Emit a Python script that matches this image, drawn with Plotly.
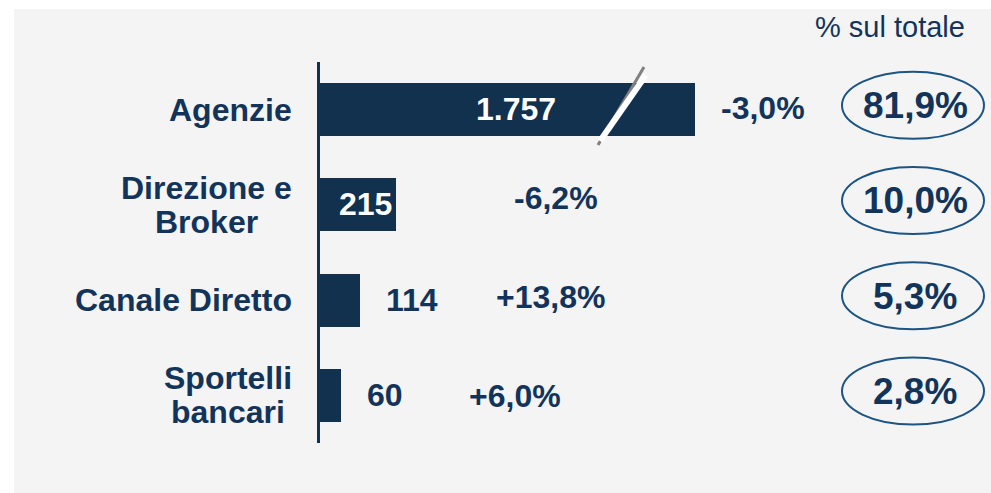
import plotly.graph_objects as go

# ---- data ----
categories = ["Agenzie", "Direzione e<br>Broker", "Canale Diretto", "Sportelli<br>bancari"]
values = [1757, 215, 114, 60]
value_labels = ["1.757", "215", "114", "60"]
growth_labels = ["-3,0%", "-6,2%", "+13,8%", "+6,0%"]
share_labels = ["81,9%", "10,0%", "5,3%", "2,8%"]
share_header = "% sul totale"

# ---- style / layout ----
W, H = 991, 493
NAVY = "#12314F"
TEXT = "#13345A"
ELL = "#1C5484"
GREY_BG = "#F4F4F4"
FONT = "Liberation Sans, Arial, sans-serif"
LBL_SIZE = 32
CAT_LINE = 34
BREAK_CAP = 1065          # display length of broken bar (axis break)
UNITS_PER_PX = 2.84
X0_PX = 320
label_inside = [True, True, False, False]
growth_x_px = [763, 556, 550, 515]
growth_dy = [2, 7, 3, -1]

# Arial/Liberation Sans Bold advance widths (em/1000) for label centring
BOLD_W = {"A": 722, "B": 722, "C": 722, "D": 722, "S": 667, "a": 556, "b": 611, "c": 556,
          "e": 556, "g": 611, "i": 278, "k": 556, "l": 278, "n": 611, "o": 611, "p": 611,
          "r": 389, "t": 333, "z": 500, " ": 278}


def text_w(s, size):
    return sum(BOLD_W.get(ch, 556) for ch in s) / 1000 * size


def px(x):
    return x / W


def py(y):
    return 1 - y / H


disp = [min(v, BREAK_CAP) for v in values]
ypos = list(range(len(categories)))

fig = go.Figure()
fig.add_trace(go.Bar(
    x=disp, y=ypos, orientation="h", width=0.555,
    marker=dict(color=NAVY, line=dict(width=0)),
    hoverinfo="skip", showlegend=False,
))

ann = []
# category labels (multi-line, centred block, right edge at 292 px)
RIGHT = 292
for i, c in enumerate(categories):
    lines = c.split("<br>")
    wmax = max(text_w(l, LBL_SIZE) for l in lines)
    cx = RIGHT - wmax / 2
    n = len(lines)
    for k, l in enumerate(lines):
        off = (k - (n - 1) / 2) * CAT_LINE
        ann.append(dict(x=px(cx), xref="paper", xanchor="center", y=i, yref="y", yanchor="middle",
                        yshift=-off, text="<b>%s</b>" % l, showarrow=False,
                        font=dict(family=FONT, size=LBL_SIZE, color=TEXT)))
# value labels
for i, (d, t) in enumerate(zip(disp, value_labels)):
    if label_inside[i]:
        ann.append(dict(x=d / 2, xref="x", xanchor="center", xshift=8, y=i, yref="y", yanchor="middle",
                        yshift=1, text="<b>%s</b>" % t, showarrow=False,
                        font=dict(family=FONT, size=LBL_SIZE, color="white")))
    else:
        ann.append(dict(x=d, xref="x", xanchor="left", xshift=24, y=i, yref="y", yanchor="middle",
                        text="<b>%s</b>" % t, showarrow=False,
                        font=dict(family=FONT, size=LBL_SIZE, color=TEXT)))
# growth labels
for i, t in enumerate(growth_labels):
    ann.append(dict(x=px(growth_x_px[i]), xref="paper", xanchor="center", y=i, yref="y",
                    yanchor="middle", yshift=growth_dy[i], text="<b>%s</b>" % t, showarrow=False,
                    font=dict(family=FONT, size=LBL_SIZE, color=TEXT)))
# share labels
for i, t in enumerate(share_labels):
    ann.append(dict(x=px(915), xref="paper", xanchor="center", y=i, yref="y", yanchor="middle",
                    yshift=4, text="<b>%s</b>" % t, showarrow=False,
                    font=dict(family=FONT, size=37, color=TEXT)))
ann.append(dict(x=px(890), xref="paper", xanchor="center", y=py(27), yref="paper", yanchor="middle",
                text=share_header, showarrow=False, font=dict(family=FONT, size=29, color=TEXT)))

shapes = [
    dict(type="rect", xref="paper", yref="paper", x0=px(14), x1=1, y0=0, y1=py(9),
         fillcolor=GREY_BG, line=dict(width=0), layer="below"),
]
for i in ypos:
    c = i - 0.045
    shapes.append(dict(type="circle", xref="paper", yref="y", x0=px(842), x1=px(984),
                       y0=c - 0.352, y1=c + 0.352, line=dict(color=ELL, width=2),
                       fillcolor="rgba(0,0,0,0)"))
# axis-break mark on the first bar
shapes.append(dict(type="line", xref="paper", yref="paper", x0=px(598), y0=py(145), x1=px(644), y1=py(67),
                   line=dict(color="#808080", width=3)))
shapes.append(dict(type="line", xref="paper", yref="paper", x0=px(600), y0=py(141), x1=px(646), y1=py(75),
                   line=dict(color="white", width=6)))

fig.update_layout(
    width=W, height=H, margin=dict(l=0, r=0, t=0, b=0),
    paper_bgcolor="white", plot_bgcolor="rgba(0,0,0,0)",
    xaxis=dict(domain=[X0_PX / W, 1], range=[0, (W - X0_PX) * UNITS_PER_PX],
               visible=False, fixedrange=True),
    yaxis=dict(domain=[py(443), py(62)], range=[3.5, -0.5], showticklabels=False,
               showgrid=False, zeroline=False, ticks="", showline=True,
               linecolor=NAVY, linewidth=3, fixedrange=True),
    annotations=ann, shapes=shapes, bargap=0,
)

fig.write_html("out.html", config={"displayModeBar": False},
               post_script="document.body.style.margin='0';document.body.style.overflow='hidden';")
